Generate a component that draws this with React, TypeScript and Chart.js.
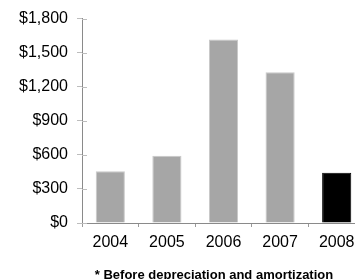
import React, { useEffect, useRef } from "react";
import { Chart, registerables } from "chart.js";

Chart.register(...registerables);

const categories = ["2004", "2005", "2006", "2007", "2008"];
const values = [455, 592, 1615, 1328, 443];
const barColors = ["#a6a6a6", "#a6a6a6", "#a6a6a6", "#a6a6a6", "#000000"];
const borderColors = ["#c8c8c8", "#c8c8c8", "#c8c8c8", "#c8c8c8", "#000000"];
const footnote = "* Before depreciation and amortization";

const innerTicks = {
  id: "innerTicks",
  afterDraw(chart: any) {
    const ctx = chart.ctx;
    const y = chart.scales.y;
    const area = chart.chartArea;
    ctx.save();
    ctx.strokeStyle = "#bdbdbd";
    ctx.lineWidth = 1;
    y.ticks.forEach((t: any) => {
      const py = Math.round(y.getPixelForValue(t.value)) + 0.5;
      ctx.beginPath();
      ctx.moveTo(area.left, py);
      ctx.lineTo(area.left + 5, py);
      ctx.stroke();
    });
    ctx.fillStyle = "#000";
    ctx.font = "bold 13px 'Liberation Sans', Arial, sans-serif";
    ctx.textAlign = "center";
    ctx.textBaseline = "alphabetic";
    ctx.fillText(footnote, 214, 279);
    ctx.restore();
  },
};

export default function App() {
  const ref = useRef<HTMLCanvasElement>(null);
  useEffect(() => {
    if (!ref.current) return;
    const chart = new Chart(ref.current, {
      type: "bar",
      data: {
        labels: categories,
        datasets: [
          {
            data: values,
            backgroundColor: barColors,
            borderColor: borderColors,
            borderWidth: 1,
            barPercentage: 0.515,
            categoryPercentage: 1,
          },
        ],
      },
      options: {
        responsive: false,
        animation: false,
        devicePixelRatio: 1,
        layout: { padding: { top: 16, right: 1, left: 0, bottom: 0 } },
        plugins: { legend: { display: false }, tooltip: { enabled: false } },
        scales: {
          x: {
            grid: {
              display: true,
              drawOnChartArea: false,
              drawTicks: true,
              tickLength: 4,
              color: "#9a9a9a",
              offset: true,
            },
            border: { display: true, color: "#8a8a8a", width: 1 },
            ticks: {
              color: "#000",
              font: { family: "'Liberation Sans', Arial, sans-serif", size: 16 },
              padding: 6,
              maxRotation: 0,
            },
            afterFit: (s: any) => {
              s.height = 56;
            },
          },
          y: {
            min: 0,
            max: 1800,
            grid: {
              display: true,
              drawOnChartArea: false,
              drawTicks: true,
              tickLength: 5,
              color: "#bdbdbd",
            },
            border: { display: true, color: "#8a8a8a", width: 1 },
            ticks: {
              stepSize: 300,
              color: "#000",
              font: { family: "'Liberation Sans', Arial, sans-serif", size: 16 },
              padding: 9,
              callback: (v: any) => "$" + Number(v).toLocaleString("en-US"),
            },
            afterFit: (s: any) => {
              s.width = 82;
            },
          },
        },
      },
      plugins: [innerTicks],
    });
    return () => chart.destroy();
  }, []);
  return (
    <div
      style={{
        position: "fixed",
        left: 0,
        top: 0,
        width: 355,
        height: 279,
        overflow: "hidden",
        background: "#fff",
      }}
    >
      <canvas ref={ref} width={366} height={279} style={{ display: "block" }} />
    </div>
  );
}
